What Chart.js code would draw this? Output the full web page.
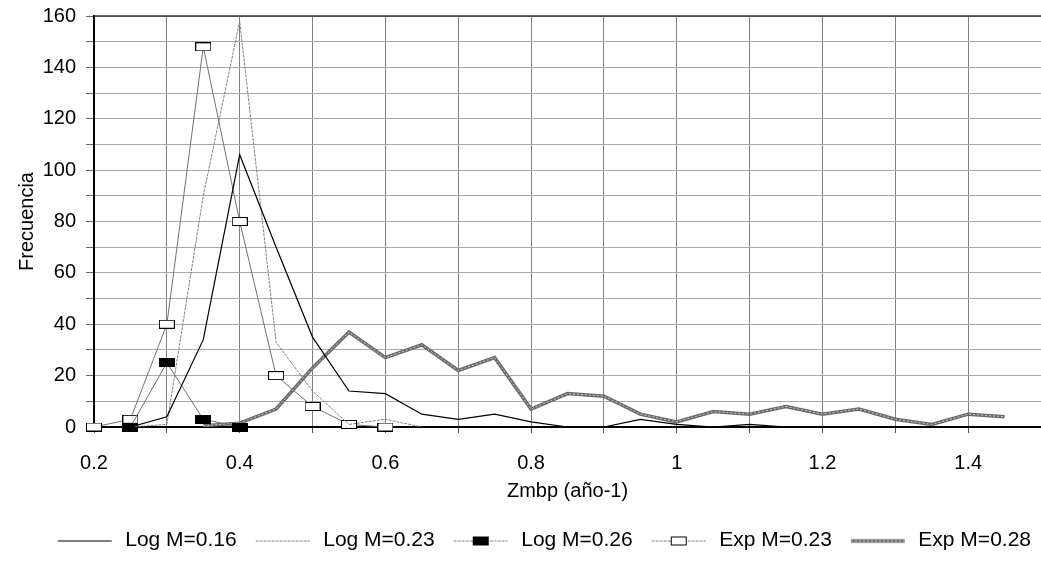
<!DOCTYPE html>
<html>
<head>
<meta charset="utf-8">
<script src="https://cdn.jsdelivr.net/npm/chart.js@4.4.0/dist/chart.umd.min.js"></script>
<style>
  html, body { margin: 0; padding: 0; background: #fff; }
  #wrap { width: 1041px; height: 561px; }
</style>
</head>
<body>
<div id="wrap"><canvas id="freq-chart"></canvas></div>
<script>
// Zmbp values (año-1)
const zValues = [0.2, 0.25, 0.3, 0.35, 0.4, 0.45, 0.5, 0.55, 0.6, 0.65, 0.7, 0.75, 0.8,
  0.85, 0.9, 0.95, 1.0, 1.05, 1.1, 1.15, 1.2, 1.25, 1.3, 1.35, 1.4, 1.45];

const logM016 = [null, 0, 4, 34, 106, 70, 35, 14, 13, 5, 3, 5, 2, 0, 0, 3, 1, 0, 1, 0,
  null, null, null, null, null, null];
const logM023 = [null, 0, 1, 90, 158, 33, 14, 1, 3, 0, null, null, null, null, null, null,
  null, null, null, null, null, null, null, null, null, null];
const logM026 = [null, 0, 25, 3, 0, null, null, null, null, null, null, null, null, null,
  null, null, null, null, null, null, null, null, null, null, null, null];
const expM023 = [0, 3, 40, 148, 80, 20, 8, 1, 0, null, null, null, null, null, null, null,
  null, null, null, null, null, null, null, null, null, null];
const expM028 = [null, null, null, 0.5, 1.5, 7, 23, 37, 27, 32, 22, 27, 7, 13, 12, 5, 2, 6,
  5, 8, 5, 7, 3, 1, 5, 4];

const seriesNames = ['Log M=0.16', 'Log M=0.23', 'Log M=0.26', 'Exp M=0.23', 'Exp M=0.28'];
const yTicks = [0, 20, 40, 60, 80, 100, 120, 140, 160];
const xTicks = [0.2, 0.4, 0.6, 0.8, 1, 1.2, 1.4];

const FONT = 'Arial, "Liberation Sans", sans-serif';

function toPoints(values) {
  return zValues
    .map((x, i) => ({ x: x, y: values[i] }))
    .filter(p => p.y !== null && p.y !== undefined);
}

// rectangular markers
function makeMarker(fill) {
  const c = document.createElement('canvas');
  c.width = 16; c.height = 9;
  const g = c.getContext('2d');
  g.fillStyle = fill;
  g.fillRect(0.5, 0.5, 15, 8);
  g.strokeStyle = '#000';
  g.lineWidth = 1;
  g.strokeRect(0.5, 0.5, 15, 8);
  return c;
}
const filledMarker = makeMarker('#000');
const openMarker = makeMarker('#fff');

// legend samples: a short line with optional marker
function makeLegendIcon(color, width, dash, marker, hatch) {
  const c = document.createElement('canvas');
  c.width = 66; c.height = 12;
  const g = c.getContext('2d');
  g.strokeStyle = color;
  g.lineWidth = width;
  g.setLineDash(dash);
  g.beginPath();
  g.moveTo(9, 6.5);
  g.lineTo(63, 6.5);
  g.stroke();
  if (hatch) {
    g.strokeStyle = '#c8c8c8';
    g.lineWidth = 1;
    g.setLineDash([2, 2]);
    g.beginPath();
    g.moveTo(9, 6.5);
    g.lineTo(63, 6.5);
    g.stroke();
  }
  if (marker) g.drawImage(marker, 36 - 8, 6.5 - 4.5);
  return c;
}
const legendIcons = [
  makeLegendIcon('#000', 1.2, [], null, false),
  makeLegendIcon('#808080', 1, [3, 1], null, false),
  makeLegendIcon('#808080', 1, [3, 1], filledMarker, false),
  makeLegendIcon('#808080', 1, [3, 1], openMarker, false),
  makeLegendIcon('#6a6a6a', 3.5, [], null, true),
];

const hatchPlugin = {
  id: 'hatch',
  afterDatasetDraw(chart, args) {
    if (args.index !== 4) return;
    const pts = args.meta.data;
    const ctx = chart.ctx;
    const a = chart.chartArea;
    ctx.save();
    ctx.beginPath();
    ctx.rect(a.left, a.top, a.right - a.left, a.bottom - a.top);
    ctx.clip();
    ctx.strokeStyle = '#c8c8c8';
    ctx.lineWidth = 1;
    ctx.setLineDash([2, 2]);
    ctx.beginPath();
    pts.forEach((p, i) => { if (i === 0) ctx.moveTo(p.x, p.y); else ctx.lineTo(p.x, p.y); });
    ctx.stroke();
    ctx.restore();
  }
};

const topFrame = {
  id: 'topFrame',
  afterDraw(chart) {
    const a = chart.chartArea;
    const ctx = chart.ctx;
    ctx.save();
    ctx.strokeStyle = '#333';
    ctx.lineWidth = 1.5;
    ctx.beginPath();
    ctx.moveTo(a.left, a.top);
    ctx.lineTo(a.right, a.top);
    ctx.stroke();
    ctx.restore();
  }
};

const data = {
  datasets: [
    {
      label: seriesNames[0],
      data: toPoints(logM016),
      borderColor: '#000',
      borderWidth: 1.2,
      pointRadius: 0,
    },
    {
      label: seriesNames[1],
      data: toPoints(logM023),
      borderColor: '#808080',
      borderWidth: 1,
      borderDash: [3, 1],
      pointRadius: 0,
    },
    {
      label: seriesNames[2],
      data: toPoints(logM026),
      borderColor: '#707070',
      borderWidth: 1,
      pointStyle: filledMarker,
      pointRadius: 5,
      clip: false,
    },
    {
      label: seriesNames[3],
      data: toPoints(expM023),
      borderColor: '#707070',
      borderWidth: 1,
      pointStyle: openMarker,
      pointRadius: 5,
      clip: false,
    },
    {
      label: seriesNames[4],
      data: toPoints(expM028),
      borderColor: '#6a6a6a',
      borderWidth: 3.5,
      pointRadius: 0,
    },
  ]
};

const options = {
  responsive: true,
  maintainAspectRatio: false,
  animation: false,
  layout: { autoPadding: false, padding: { top: 16, right: 0, bottom: 0, left: 0 } },
  elements: { line: { tension: 0, fill: false } },
  scales: {
    x: {
      type: 'linear',
      min: 0.2,
      max: 1.5,
      afterFit: (scale) => {
        scale.height = 93;
        scale.paddingLeft = 0;
        scale.paddingRight = 0;
      },
      border: { display: true, color: '#000', width: 2 },
      grid: { color: '#808080', lineWidth: 1, tickLength: 6, tickColor: '#555' },
      ticks: {
        stepSize: 0.1,
        padding: 18,
        color: '#000',
        font: { family: FONT, size: 20 },
        maxRotation: 0,
        autoSkip: false,
        callback: function(value) {
          const v = Math.round(value * 10) / 10;
          return xTicks.some(t => Math.abs(t - v) < 1e-6) ? String(v) : '';
        },
      },
      title: {
        display: true,
        text: 'Zmbp (año-1)',
        color: '#000',
        font: { family: FONT, size: 20 },
        padding: { top: 17, bottom: 17 },
      },
    },
    y: {
      min: 0,
      max: 160,
      afterFit: (scale) => {
        scale.width = 94;
        scale.paddingTop = 0;
        scale.paddingBottom = 0;
      },
      border: { display: true, color: '#000', width: 2 },
      grid: { color: '#a8a8a8', lineWidth: 1, tickLength: 8, tickColor: '#666' },
      ticks: {
        stepSize: 10,
        padding: 10,
        color: '#000',
        font: { family: FONT, size: 20 },
        autoSkip: false,
        callback: function(value) {
          return yTicks.includes(value) ? String(value) : '';
        },
      },
      title: {
        display: true,
        text: 'Frecuencia',
        color: '#000',
        font: { family: FONT, size: 20 },
        padding: { top: 15, bottom: 15 },
      },
    },
  },
  plugins: {
    legend: {
      position: 'bottom',
      align: 'end',
      labels: {
        usePointStyle: true,
        pointStyleWidth: 66,
        padding: 10,
        color: '#000',
        font: { family: FONT, size: 21 },
        generateLabels: function(chart) {
          const items = Chart.defaults.plugins.legend.labels.generateLabels(chart);
          items.forEach((item, i) => { item.pointStyle = legendIcons[i]; });
          return items;
        },
      },
    },
    tooltip: { enabled: false },
  },
};

new Chart(document.getElementById('freq-chart'), {
  type: 'line',
  data: data,
  options: options,
  plugins: [hatchPlugin, topFrame],
});
</script>
</body>
</html>
